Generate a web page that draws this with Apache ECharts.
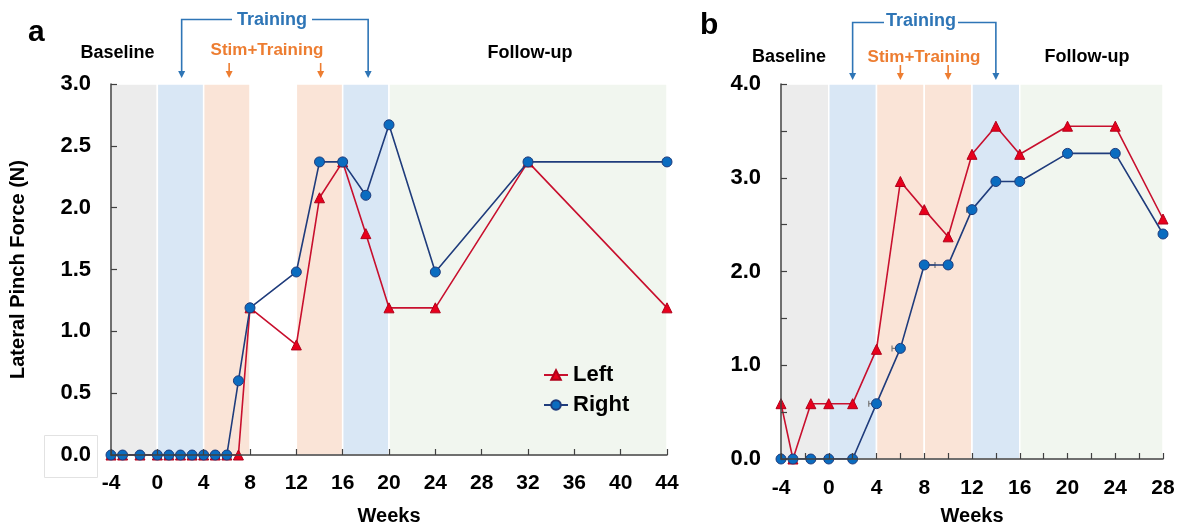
<!DOCTYPE html>
<html><head><meta charset="utf-8">
<script src="https://cdn.jsdelivr.net/npm/echarts@6/dist/echarts.min.js"></script>
<style>html,body{margin:0;padding:0;background:#fff}#c{width:1177px;height:524px}</style>
</head><body><div id="c"></div>
<script>
// ---- Data (panel a) ----
const weeksA = [-4,-3,-1.5,0,1,2,3,4,5,6,7,8,12,14,16,18,20,24,32,44];
const leftA  = [0,0,0,0,0,0,0,0,0,0,0,1.19,0.89,2.08,2.37,1.79,1.19,1.19,2.37,1.19];
const rightA = [0,0,0,0,0,0,0,0,0,0,0.6,1.19,1.48,2.37,2.37,2.1,2.67,1.48,2.37,2.37];
// ---- Data (panel b) ----
const weeksB = [-4,-3,-1.5,0,2,4,6,8,10,12,14,16,20,24,28];
const leftB  = [0.59,0,0.59,0.59,0.59,1.17,2.96,2.66,2.37,3.25,3.55,3.25,3.55,3.55,2.56];
const rightB = [0,0,0,0,0,0.59,1.18,2.07,2.07,2.66,2.96,2.96,3.26,3.26,2.40];
// small horizontal timing error bars on some Right points (panel b): [week, value, from, to]
const errWeekB  = [4, 6, 8, 12];
const errValB   = [0.59, 1.18, 2.07, 2.66];
const errFromB  = [3.35, 5.3, 8, 11.55];
const errToB    = [4, 6, 8.9, 12];
// ---- Phase bands [start, end, phase] ----
const bandsA = [[-4,0,'base'],[0,4,'train'],[4,8,'stim'],[12,16,'stim'],[16,20,'train'],[20,44,'follow']];
const bandsB = [[-4,0,'base'],[0,4,'train'],[4,8,'stim'],[8,12,'stim'],[12,16,'train'],[16,28,'follow']];
// ---- Axis ranges ----
const yMaxA = 3, yMaxB = 4;
// ---- Annotation arrow weeks ----
const trainArrowsA = [2.1, 18.2], stimArrowsA = [6.2, 14.1];
const trainArrowsB = [2, 14], stimArrowsB = [6, 10];

const bandColor = {base:'#ECECEC', train:'#D9E7F5', stim:'#FAE4D7', follow:'#F1F6EF'};
const FONT = 'Arial, "Liberation Sans", sans-serif';
const BLUE_T = '#2E75B6', ORANGE_T = '#ED7D31';

const zip = (xs, ys) => xs.map((x,i)=>[x, ys[i]]);
const mkBands = (b, top) => b.map(([s,e,p]) => [{xAxis:s, yAxis:0, itemStyle:{color:bandColor[p]}}, {xAxis:e, yAxis:top}]);

const axisCommon = {
  axisLine:{show:true, onZero:false, lineStyle:{color:'#404040', width:1.5}},
  axisTick:{show:true, inside:true, length:6, lineStyle:{color:'#404040', width:1.2}},
  splitLine:{show:false},
  axisLabel:{color:'#000', fontSize:21, fontWeight:'bold', fontFamily:FONT}
};

const redSeries = (idx, data, bands, top) => ({
  name:'Left', type:'line', xAxisIndex:idx, yAxisIndex:idx, data, z:3,
  symbol:'triangle', symbolSize:10,
  lineStyle:{color:'#C8102E', width:1.6},
  itemStyle:{color:'#E8001C', borderColor:'#B0001A', borderWidth:1},
  emphasis:{disabled:true}, animation:false,
  markArea:{silent:true, z:1, itemStyle:{borderColor:'#fff', borderWidth:1.5}, data:mkBands(bands, top)}
});
const blueSeries = (idx, data) => ({
  name:'Right', type:'line', xAxisIndex:idx, yAxisIndex:idx, data, z:4,
  symbol:'circle', symbolSize:10,
  lineStyle:{color:'#1F3C7C', width:1.6},
  itemStyle:{color:'#0A6CC0', borderColor:'#1F3C7C', borderWidth:1},
  emphasis:{disabled:true}, animation:false
});
const errSeries = {
  name:'err', type:'custom', xAxisIndex:1, yAxisIndex:1, z:3, silent:true, animation:false,
  data: errWeekB.map((w,i)=>[w, errValB[i], errFromB[i], errToB[i]]),
  renderItem:(params, api) => {
    const y = api.coord([0, api.value(1)])[1];
    const x1 = api.coord([api.value(2), 0])[0], x2 = api.coord([api.value(3), 0])[0];
    const st = {stroke:'#777', lineWidth:1.2};
    return {type:'group', children:[
      {type:'line', shape:{x1, y1:y, x2, y2:y}, style:st},
      {type:'line', shape:{x1, y1:y-3, x2:x1, y2:y+3}, style:st},
      {type:'line', shape:{x1:x2, y1:y-3, x2:x2, y2:y+3}, style:st}
    ]};
  }
};

const chart = echarts.init(document.getElementById('c'), null, {renderer:'canvas'});
chart.setOption({
  animation:false,
  backgroundColor:'#fff',
  textStyle:{fontFamily:FONT},
  grid:[
    {left:111, top:84, width:556, height:371, outerBoundsMode:'none', containLabel:false},
    {left:781, top:84, width:382, height:375, outerBoundsMode:'none', containLabel:false}
  ],
  xAxis:[
    Object.assign({}, axisCommon, {gridIndex:0, type:'value', min:-4, max:44, interval:4, z:5,
      name:'Weeks', nameLocation:'middle', nameGap:51,
      nameTextStyle:{color:'#000', fontSize:20, fontWeight:'bold', fontFamily:FONT},
      axisLabel:Object.assign({}, axisCommon.axisLabel, {margin:18})}),
    Object.assign({}, axisCommon, {gridIndex:1, type:'value', min:-4, max:28, interval:2, z:5,
      name:'Weeks', nameLocation:'middle', nameGap:47,
      nameTextStyle:{color:'#000', fontSize:20, fontWeight:'bold', fontFamily:FONT},
      axisLabel:Object.assign({}, axisCommon.axisLabel, {margin:19,
        formatter:v => ((v+4)%4===0 ? String(v) : '')})})
  ],
  yAxis:[
    Object.assign({}, axisCommon, {gridIndex:0, type:'value', min:0, max:yMaxA, interval:0.5, z:5,
      name:'Lateral Pinch Force (N)', nameLocation:'middle', nameGap:83, nameRotate:90,
      nameTextStyle:{color:'#000', fontSize:20, fontWeight:'bold', fontFamily:FONT},
      axisLabel:Object.assign({}, axisCommon.axisLabel, {fontSize:22, margin:20, formatter:v => v.toFixed(1)})}),
    Object.assign({}, axisCommon, {gridIndex:1, type:'value', min:0, max:yMaxB, interval:0.5, z:5,
      axisLabel:Object.assign({}, axisCommon.axisLabel, {fontSize:22, margin:20,
        formatter:v => (Math.abs(v - Math.round(v))<1e-9 ? v.toFixed(1) : '')})})
  ],
  legend:{
    data:['Left','Right'], orient:'vertical', left:538, top:359, itemWidth:24, itemHeight:12, itemGap:8,
    textStyle:{color:'#000', fontSize:22, fontWeight:'bold', fontFamily:FONT}, selectedMode:false
  },
  series:[
    redSeries(0, zip(weeksA, leftA), bandsA, yMaxA), blueSeries(0, zip(weeksA, rightA)),
    redSeries(1, zip(weeksB, leftB), bandsB, yMaxB), errSeries, blueSeries(1, zip(weeksB, rightB))
  ]
});

// ---- annotations ----
function px(idx, w){ return chart.convertToPixel({xAxisIndex:idx, yAxisIndex:idx}, [w, 0])[0]; }
function arrow(x, y0, y1, color){
  return [
    {type:'line', shape:{x1:x, y1:y0, x2:x, y2:y1-5}, style:{stroke:color, lineWidth:1.6}},
    {type:'polygon', shape:{points:[[x-3.5,y1-7],[x+3.5,y1-7],[x,y1]]}, style:{fill:color}}
  ];
}
function txt(x, y, s, size, color, align){
  return {type:'text', x, y, style:{text:s, fill:color, font:'bold '+size+'px '+FONT, align:align||'center', verticalAlign:'middle'}};
}
function panelAnn(idx, tArrows, sArrows, yTrain, yArrowEnd, trainCx, trainHalf, labels){
  const g = [];
  const xl = px(idx, tArrows[0]), xr = px(idx, tArrows[1]);
  g.push({type:'polyline', shape:{points:[[trainCx-trainHalf, yTrain],[xl, yTrain],[xl, yArrowEnd-5]]}, style:{stroke:BLUE_T, lineWidth:1.6, fill:null}});
  g.push({type:'polyline', shape:{points:[[trainCx+trainHalf, yTrain],[xr, yTrain],[xr, yArrowEnd-5]]}, style:{stroke:BLUE_T, lineWidth:1.6, fill:null}});
  g.push(...arrow(xl, yArrowEnd-6, yArrowEnd, BLUE_T));
  g.push(...arrow(xr, yArrowEnd-6, yArrowEnd, BLUE_T));
  sArrows.forEach(w => g.push(...arrow(px(idx, w), yArrowEnd-15, yArrowEnd, ORANGE_T)));
  labels.forEach(l => g.push(txt(...l)));
  return g;
}
const gA = panelAnn(0, trainArrowsA, stimArrowsA, 19.5, 78, 272, 40, [
  [272, 20, 'Training', 18, BLUE_T],
  [267, 50, 'Stim+Training', 17, ORANGE_T],
  [117.5, 53, 'Baseline', 18, '#000'],
  [530, 53, 'Follow-up', 18, '#000'],
  [28, 33, 'a', 30, '#000', 'left']
]);
const gB = panelAnn(1, trainArrowsB, stimArrowsB, 22.5, 80, 921, 37, [
  [921, 21, 'Training', 18, BLUE_T],
  [924, 57, 'Stim+Training', 17, ORANGE_T],
  [789, 57, 'Baseline', 18, '#000'],
  [1087, 57, 'Follow-up', 18, '#000'],
  [700, 26, 'b', 30, '#000', 'left']
]);
const box = {type:'rect', shape:{x:44.5, y:435.5, width:53, height:42}, style:{fill:null, stroke:'#E2E2E2', lineWidth:1}, z:-1};
chart.setOption({graphic:{elements:[box, ...gA, ...gB]}});
</script>
</body></html>
